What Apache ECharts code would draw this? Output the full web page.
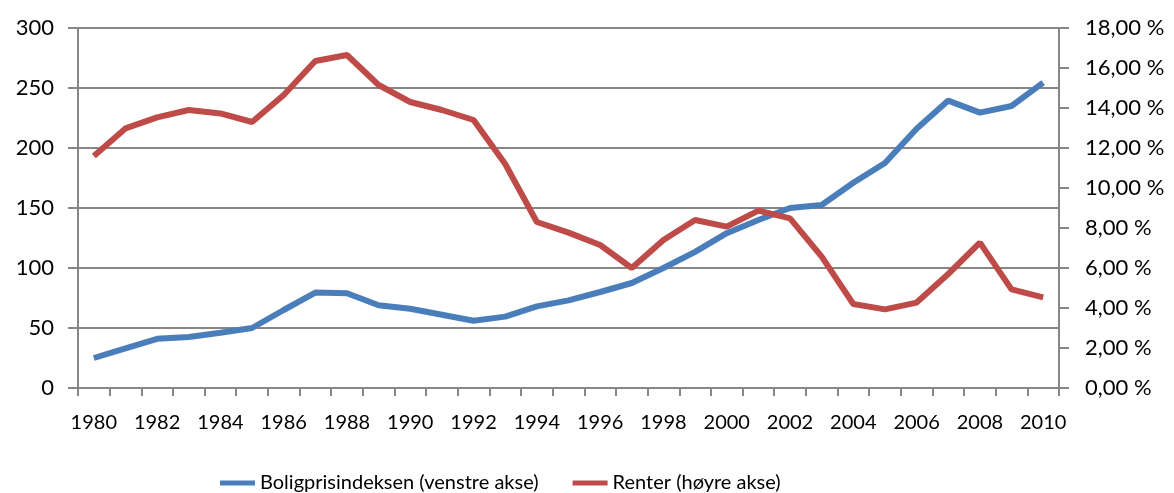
<!DOCTYPE html>
<html>
<head>
<meta charset="utf-8">
<script src="https://cdn.jsdelivr.net/npm/echarts@6/dist/echarts.min.js"></script>
<style>
  html, body { margin: 0; padding: 0; background: #fff; }
  #chart { width: 1174px; height: 493px; }
</style>
</head>
<body>
<div id="chart"></div>
<script>
// data
const years = []
for (let y = 1980; y <= 2010; y++) years.push(String(y))
const boligpris = [25, 33, 41, 42.5, 46, 50, 65, 79.5, 79, 69, 66, 61, 56, 59.5, 68, 73, 80, 87.5, 100, 113.5,
    129, 140, 150, 152.5, 171, 187.5, 216, 239.5, 229.5, 235, 254.5]
const renter = [11.6, 12.98, 13.53, 13.9, 13.73, 13.3, 14.65, 16.35, 16.65, 15.15, 14.3, 13.9, 13.4, 11.2, 8.3,
    7.77, 7.15, 6.0, 7.4, 8.4, 8.07, 8.87, 8.48, 6.57, 4.2, 3.93, 4.27, 5.7, 7.27, 4.93, 4.53]
const seriesNames = ['Boligprisindeksen (venstre akse)', 'Renter (høyre akse)']

const gray = '#868686'
const font = 'Lato, sans-serif'

const myChart = echarts.init(document.getElementById('chart'))
const option = {
    animation: false,
    grid: { left: 78, right: 115, top: 28, bottom: 105 },
    legend: {
        top: 468,
        left: 215,
        icon: 'rect',
        itemWidth: 35,
        itemHeight: 5,
        itemGap: 34,
        textStyle: { fontFamily: font, fontSize: 20, color: '#000' },
        data: seriesNames,
    },
    xAxis: {
        type: 'category',
        data: years,
        boundaryGap: true,
        axisLine: { lineStyle: { color: gray, width: 2 } },
        axisTick: { show: true, interval: 0, length: 8, lineStyle: { color: gray, width: 2 } },
        axisLabel: { interval: 1, margin: 25, fontFamily: font, fontSize: 20, color: '#000' },
    },
    yAxis: [
        {
            type: 'value',
            min: 0,
            max: 300,
            interval: 50,
            axisLine: { show: true, lineStyle: { color: gray, width: 2 } },
            axisTick: { show: true, length: 10, lineStyle: { color: gray, width: 2 } },
            splitLine: { lineStyle: { color: gray, width: 2 } },
            axisLabel: { margin: 24, fontFamily: font, fontSize: 22, color: '#000' },
        },
        {
            type: 'value',
            min: 0,
            max: 18,
            interval: 2,
            position: 'right',
            axisLine: { show: true, lineStyle: { color: gray, width: 2 } },
            axisTick: { show: true, length: 10, lineStyle: { color: gray, width: 2 } },
            splitLine: { show: false },
            axisLabel: {
                margin: 26,
                fontFamily: font,
                fontSize: 22,
                color: '#000',
                formatter: (v) => v.toFixed(2).replace('.', ',') + ' %',
            },
        },
    ],
    series: [
        {
            name: seriesNames[0],
            type: 'line',
            yAxisIndex: 0,
            data: boligpris,
            symbol: 'none',
            lineStyle: { color: '#4a7ebb', width: 6 },
            itemStyle: { color: '#4a7ebb' },
        },
        {
            name: seriesNames[1],
            type: 'line',
            yAxisIndex: 1,
            data: renter,
            symbol: 'none',
            lineStyle: { color: '#be4b48', width: 6 },
            itemStyle: { color: '#be4b48' },
        },
    ],
}
myChart.setOption(option)
</script>
</body>
</html>
